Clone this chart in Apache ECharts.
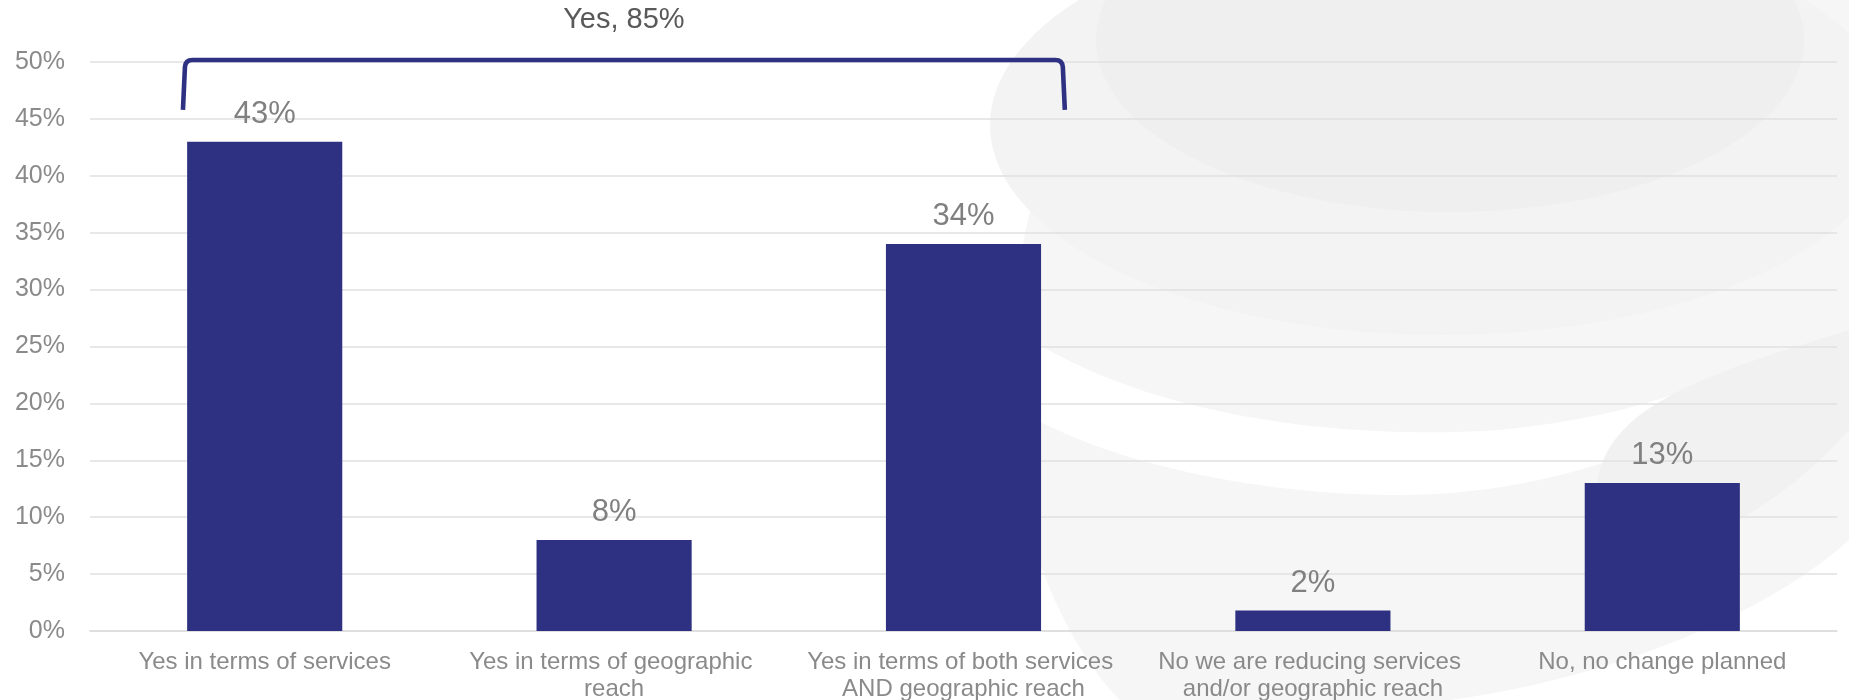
<!DOCTYPE html>
<html>
<head>
<meta charset="utf-8">
<script src="https://cdn.jsdelivr.net/npm/echarts@6/dist/echarts.min.js"></script>
<style>
  html, body { margin: 0; padding: 0; background: #ffffff; }
  #chart { width: 1849px; height: 700px; }
</style>
</head>
<body>
<div id="chart"></div>
<script>
// ---- data ----
const categories = [
  'Yes in terms of services',
  'Yes in terms of geographic reach',
  'Yes in terms of both services AND geographic reach',
  'No we are reducing services and/or geographic reach',
  'No, no change planned'
];
const values = [43, 8, 34, 1.8, 13];
const yesGroup = [0, 1, 2];            // categories bracketed as "Yes"
const yesLabel = 'Yes';
const yTicks = [0, 5, 10, 15, 20, 25, 30, 35, 40, 45, 50];

const yesTotal = Math.round(yesGroup.reduce((s, i) => s + values[i], 0));

const FONT = '"Liberation Sans", Arial, sans-serif';
const BAR = '#2e3181';

// faint watermark shapes (decoration only)
const bgShapes = [
  { d: 'M1093,0 C1040,150 1000,300 1010,420 C1020,560 1080,660 1120,700 L1849,700 L1849,0 Z', fill: '#f6f6f6' },
  { d: 'M1015,330 C1150,420 1350,440 1500,430 C1600,420 1660,400 1700,385 L1640,450 C1560,480 1480,495 1400,495 C1250,495 1100,460 1020,410 Z', fill: '#ffffff' },
  { d: 'M1849,540 C1760,620 1600,680 1450,700 L1849,700 Z', fill: '#ffffff' },
  { d: 'M990,125 A452,210 0 1,0 1894,125 A452,210 0 1,0 990,125 Z', fill: '#f3f3f3' },
  { d: 'M1096,40 A354,172 0 1,0 1804,40 A354,172 0 1,0 1096,40 Z', fill: '#efefef' },
  { d: 'M1849,330 C1720,370 1620,400 1600,470 C1580,540 1640,570 1720,530 C1790,495 1830,450 1849,430 Z', fill: '#f1f1f1' }
];

const chart = echarts.init(document.getElementById('chart'), null, { renderer: 'canvas' });

const option = {
  backgroundColor: '#ffffff',
  animation: false,
  grid: { left: 90, right: 12, top: 62, bottom: 69, containLabel: false, outerBoundsMode: 'none' },
  xAxis: {
    type: 'category',
    data: categories,
    axisTick: { show: false },
    axisLine: { show: true, lineStyle: { color: '#dcdcdc', width: 1.5 } },
    axisLabel: {
      interval: 0,
      margin: 18,
      color: '#8a8a8a',
      fontFamily: FONT,
      fontSize: 24,
      lineHeight: 27,
      width: 320,
      overflow: 'break'
    }
  },
  yAxis: {
    type: 'value',
    min: 0, max: 50, interval: 5,
    axisLine: { show: false },
    axisTick: { show: false },
    splitLine: { lineStyle: { color: '#e1e1e1', width: 1.5 } },
    axisLabel: {
      margin: 25,
      color: '#8a8a8a',
      fontFamily: FONT,
      fontSize: 25,
      formatter: v => yTicks.includes(v) ? v + '%' : ''
    }
  },
  series: [
    {
      type: 'custom',
      z: -5,
      silent: true,
      clip: false,
      data: [[0, 0]],
      renderItem: function () {
        return {
          type: 'group',
          children: bgShapes.map(s => ({
            type: 'path',
            shape: { pathData: s.d },
            style: { fill: s.fill, stroke: 'none' }
          }))
        };
      }
    },
    {
      type: 'bar',
      data: values,
      barWidth: '44.4%',
      itemStyle: { color: BAR },
      z: 3,
      label: {
        show: true,
        position: 'top',
        distance: 12,
        color: '#808080',
        fontFamily: FONT,
        fontSize: 31,
        formatter: p => Math.round(p.value) + '%'
      }
    },
    {
      type: 'custom',
      z: 5,
      silent: true,
      clip: false,
      data: [[yesGroup[0], yesGroup[yesGroup.length - 1]]],
      renderItem: function (params, api) {
        const a = api.coord([api.value(0), 50]);
        const b = api.coord([api.value(1), 50]);
        const bot = api.coord([0, 45.8]);
        const band = api.size([1, 0])[0];
        const xL = a[0] - band * 0.234;
        const xR = b[0] + band * 0.29;
        const yT = a[1] - 2;
        const yB = bot[1];
        const r = 7;
        const d = 'M' + xL + ',' + yB +
          ' L' + (xL + 2) + ',' + (yT + r) +
          ' Q' + (xL + 2.5) + ',' + yT + ' ' + (xL + 2.5 + r) + ',' + yT +
          ' L' + (xR - 2.5 - r) + ',' + yT +
          ' Q' + (xR - 2.5) + ',' + yT + ' ' + (xR - 2) + ',' + (yT + r) +
          ' L' + xR + ',' + yB;
        return {
          type: 'group',
          children: [
            { type: 'path', shape: { pathData: d },
              style: { fill: 'none', stroke: BAR, lineWidth: 4.6 } },
            { type: 'text',
              style: {
                text: yesLabel + ', ' + yesTotal + '%',
                x: (xL + xR) / 2, y: yT - 40,
                align: 'center', verticalAlign: 'middle',
                fill: '#595959', font: '29px ' + FONT
              } }
          ]
        };
      }
    }
  ]
};
chart.setOption(option);
</script>
</body>
</html>
